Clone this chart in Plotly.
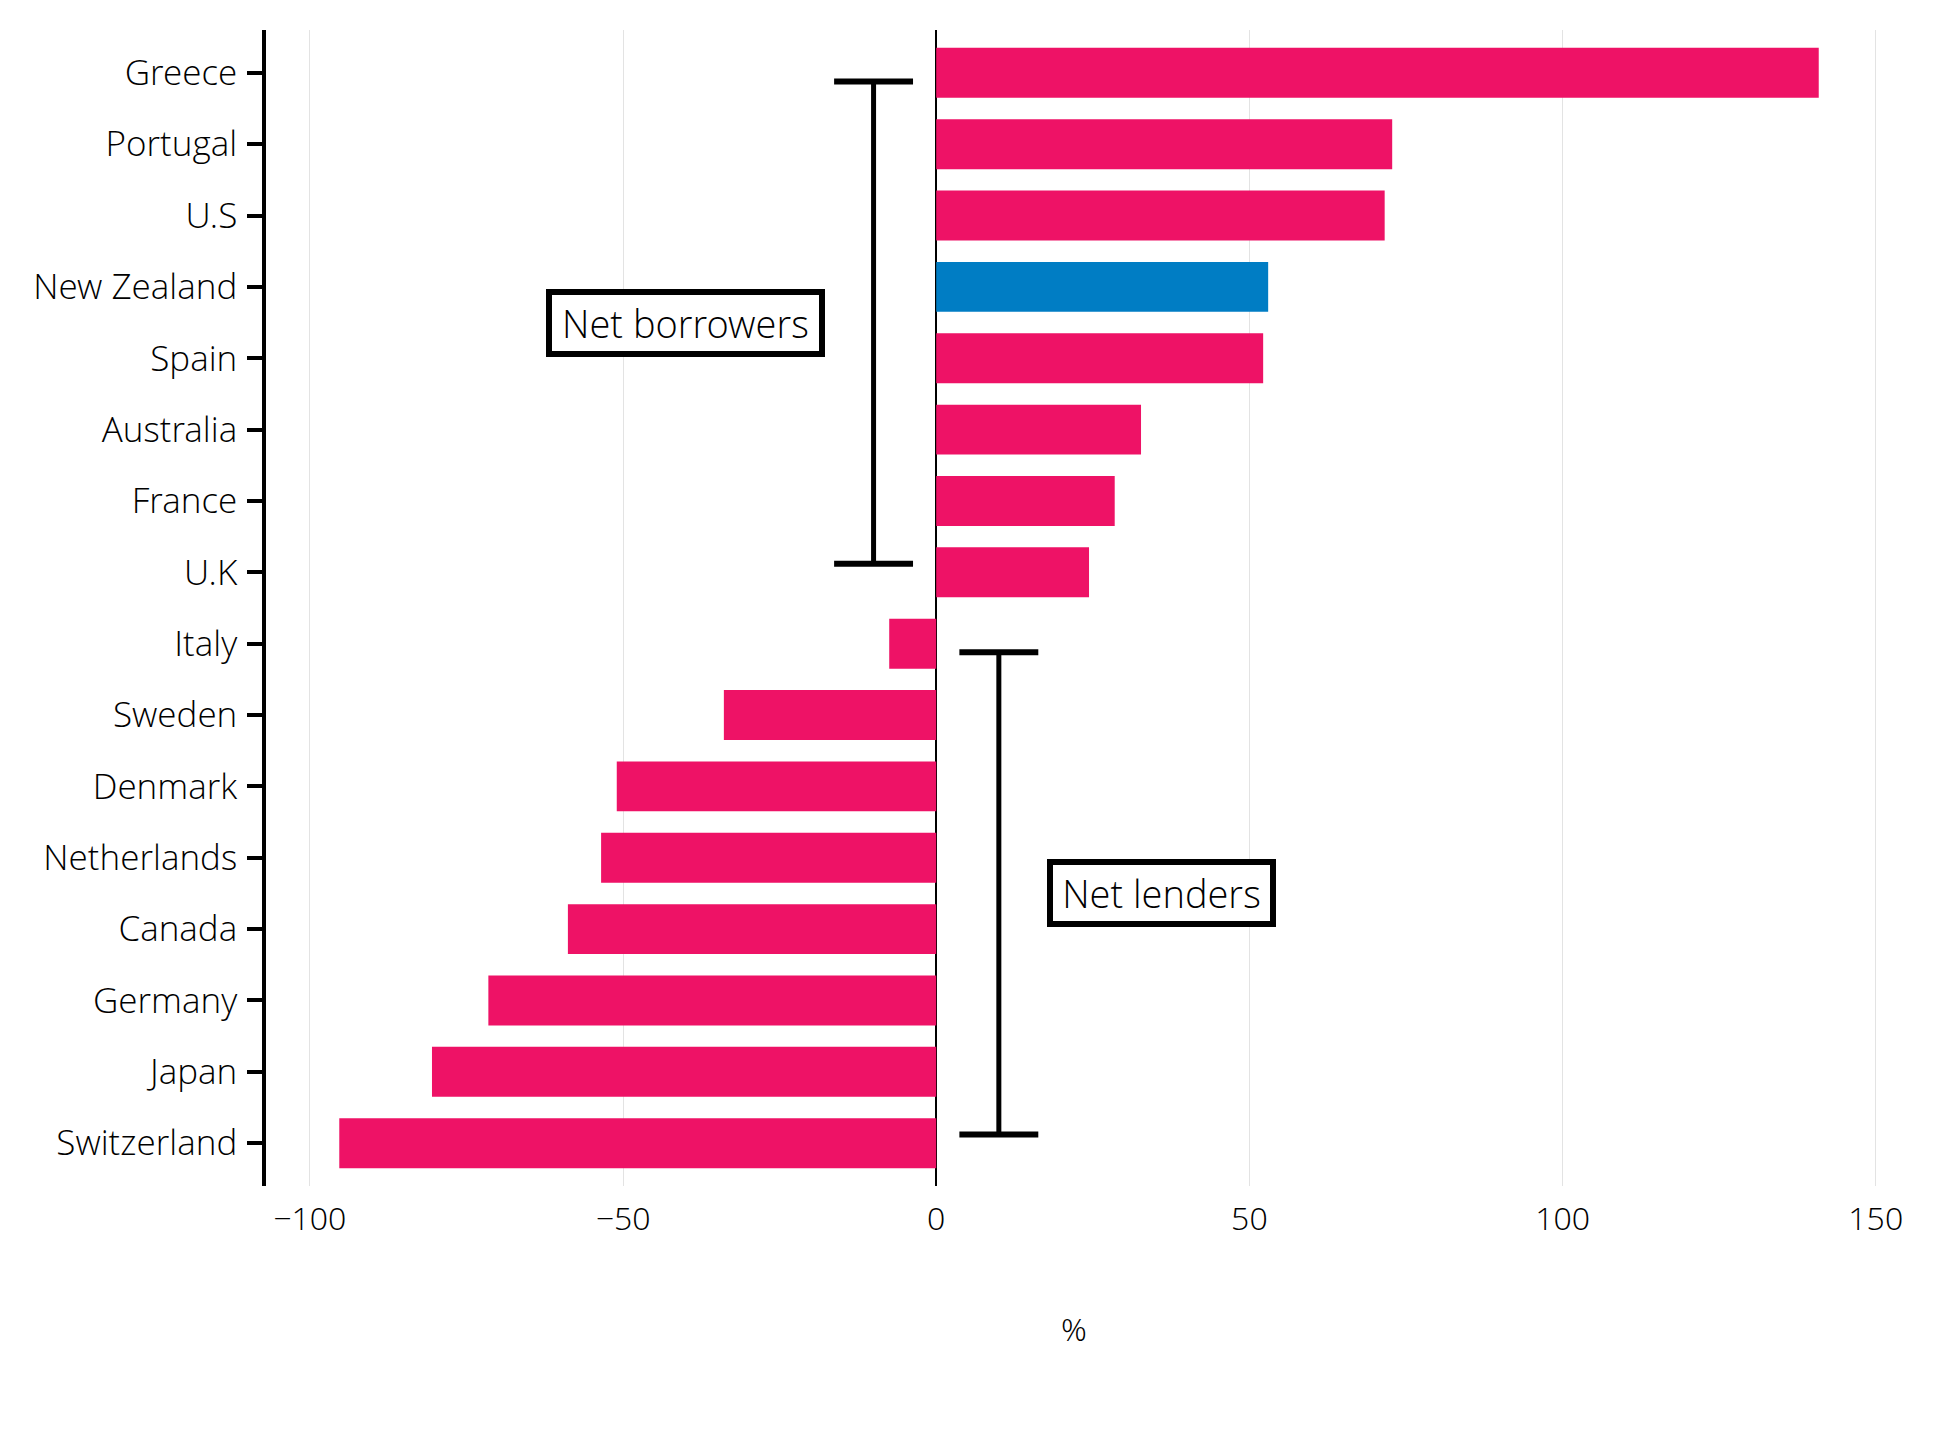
import plotly.graph_objects as go

countries = ["Greece", "Portugal", "U.S", "New Zealand", "Spain", "Australia", "France", "U.K",
             "Italy", "Sweden", "Denmark", "Netherlands", "Canada", "Germany", "Japan", "Switzerland"]
values = [140.9, 72.8, 71.6, 53.0, 52.2, 32.7, 28.5, 24.4,
          -7.5, -33.9, -51.0, -53.5, -58.8, -71.5, -80.5, -95.3]
highlight = "New Zealand"
x_ticks = [-100, -50, 0, 50, 100, 150]

PINK = "#EE1266"
BLUE = "#007DC4"
colors = [BLUE if c == highlight else PINK for c in countries]

FONT = "Open Sans Light, Open Sans"

fig = go.Figure()
fig.add_trace(go.Bar(
    x=values, y=countries, orientation="h",
    marker=dict(color=colors, line=dict(width=0)),
    width=0.7, hoverinfo="x+y",
))

# group brackets: (x position, first index, last index, label, label x, label y, box width)
brackets = [
    (-10, 0, 7, "Net borrowers", -40, 3.5, 263),
    (10, 8, 15, "Net lenders", 36, 11.5, 213),
]
shapes = []
annotations = []
for bx, i0, i1, label, lx, ly, bw in brackets:
    y0, y1 = i0 + 0.12, i1 - 0.12
    shapes.append(dict(type="line", xref="x", yref="y", x0=bx, x1=bx, y0=y0, y1=y1,
                       line=dict(color="black", width=5)))
    for yy in (y0, y1):
        shapes.append(dict(type="line", xref="x", yref="y", x0=bx - 6.3, x1=bx + 6.3, y0=yy, y1=yy,
                           line=dict(color="black", width=6)))
    annotations.append(dict(x=lx, y=ly, xref="x", yref="y", text=label, showarrow=False,
                            width=bw, height=52, align="center", valign="middle",
                            font=dict(family=FONT, size=38, color="black", weight=300),
                            bordercolor="black", borderwidth=6, borderpad=2, bgcolor="white"))

fig.update_layout(
    width=1933, height=1437,
    margin=dict(l=266, r=51, t=30, b=251),
    paper_bgcolor="white", plot_bgcolor="white",
    showlegend=False,
    shapes=shapes, annotations=annotations,
    font=dict(family=FONT, size=34, color="black", weight=300),
    xaxis=dict(
        range=[-107, 151], tickvals=x_ticks,
        showgrid=True, gridcolor="#E3E3E3", gridwidth=1,
        zeroline=True, zerolinecolor="black", zerolinewidth=1.5,
        showline=False, ticks="",
        ticklabelstandoff=11,
        tickfont=dict(family=FONT, size=32, color="black", weight=300),
        title=dict(text="%", standoff=80, font=dict(family=FONT, size=32, color="black", weight=300)),
        automargin=False,
    ),
    yaxis=dict(
        type="category", categoryorder="array", categoryarray=countries,
        range=[15.6, -0.6],
        showgrid=False, zeroline=False,
        showline=True, linecolor="black", linewidth=3.5,
        ticks="outside", ticklen=15, tickwidth=3.5, tickcolor="black",
        ticklabelstandoff=3,
        tickfont=dict(family=FONT, size=35, color="black", weight=300),
        automargin=False,
    ),
)

fig.write_html("out.html")
